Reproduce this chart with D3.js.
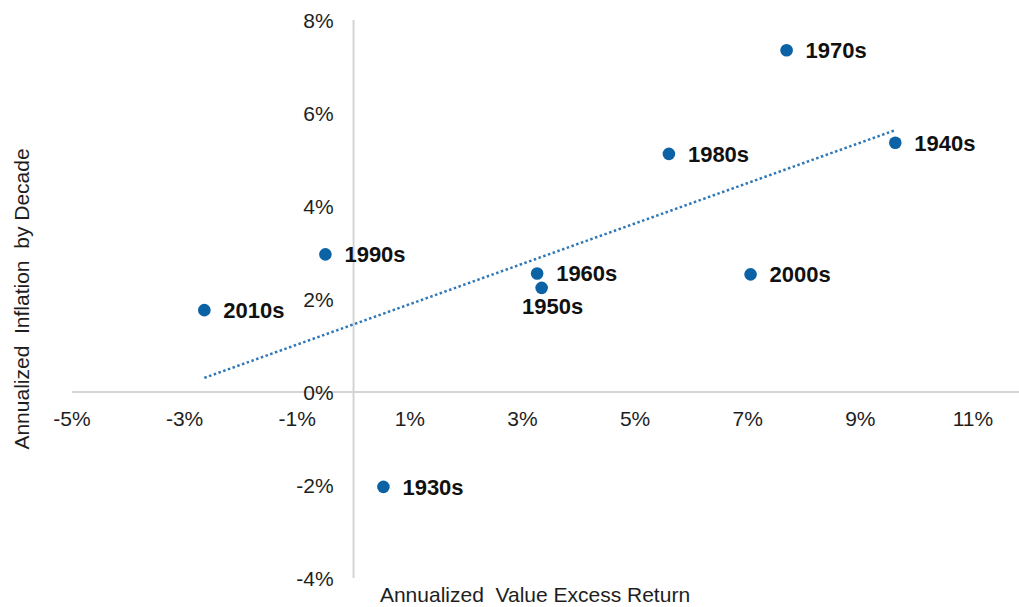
<!DOCTYPE html>
<html>
<head>
<meta charset="utf-8">
<script src="https://cdn.jsdelivr.net/npm/d3@7"></script>
<style>
  html, body { margin: 0; padding: 0; background: #fff; }
  svg { display: block; font-family: "Liberation Sans", Arial, sans-serif; }
  text { white-space: pre; }
</style>
</head>
<body>
<svg id="chart" width="1019" height="607"></svg>
<script>
// Data
const decades = ["1930s", "1940s", "1950s", "1960s", "1970s", "1980s", "1990s", "2000s", "2010s"];
const excessReturn = [0.53, 9.62, 3.34, 3.26, 7.69, 5.60, -0.50, 7.05, -2.65];
const inflation = [-2.04, 5.36, 2.24, 2.55, 7.35, 5.12, 2.96, 2.53, 1.76];
const labelBelow = ["1950s"];
const xTicks = [-5, -3, -1, 1, 3, 5, 7, 9, 11];
const yTicks = [-4, -2, 0, 2, 4, 6, 8];
const xTitle = "Annualized  Value Excess Return";
const yTitle = "Annualized  Inflation  by Decade";

const svg = d3.select("#chart");
const x = d3.scaleLinear().domain([-5, 11]).range([72, 973]);
const y = d3.scaleLinear().domain([-4, 8]).range([578, 20]);
const axisColor = "#d4d4d4";
const textColor = "#1e1e1e";
const dotColor = "#0b62a4";

// Horizontal axis line (at y=0)
svg.append("line")
  .attr("x1", x(-5)).attr("x2", 1019)
  .attr("y1", y(0)).attr("y2", y(0))
  .attr("stroke", axisColor).attr("stroke-width", 2);
// Vertical axis line (at x=0)
svg.append("line")
  .attr("x1", x(0)).attr("x2", x(0))
  .attr("y1", y(8)).attr("y2", y(-4))
  .attr("stroke", axisColor).attr("stroke-width", 2);

// X tick labels
svg.append("g").selectAll("text").data(xTicks).join("text")
  .attr("x", d => x(d)).attr("y", y(0) + 34)
  .attr("text-anchor", "middle")
  .attr("font-size", 21).attr("fill", textColor)
  .text(d => d + "%");

// Y tick labels
svg.append("g").selectAll("text").data(yTicks).join("text")
  .attr("x", x(0) - 20).attr("y", d => y(d) + 8)
  .attr("text-anchor", "end")
  .attr("font-size", 21).attr("fill", textColor)
  .text(d => d + "%");

// Trendline (least squares from data)
const n = excessReturn.length;
const mx = d3.mean(excessReturn), my = d3.mean(inflation);
let sxy = 0, sxx = 0;
for (let i = 0; i < n; i++) {
  sxy += (excessReturn[i] - mx) * (inflation[i] - my);
  sxx += (excessReturn[i] - mx) ** 2;
}
const slope = sxy / sxx, intercept = my - slope * mx;
const [xmin, xmax] = d3.extent(excessReturn);
svg.append("path")
  .datum([xmin, xmax])
  .attr("d", d3.line().x(d => x(d)).y(d => y(intercept + slope * d)))
  .attr("fill", "none")
  .attr("stroke", "#2f78b8")
  .attr("stroke-width", 2.5)
  .attr("stroke-dasharray", "2.5,2.5");

// Points
const pts = decades.map((d, i) => ({ name: d, xv: excessReturn[i], yv: inflation[i] }));
svg.append("g").selectAll("circle").data(pts).join("circle")
  .attr("cx", d => x(d.xv)).attr("cy", d => y(d.yv))
  .attr("r", 6.3).attr("fill", dotColor);

// Labels
svg.append("g").selectAll("text").data(pts).join("text")
  .attr("x", d => labelBelow.includes(d.name) ? x(d.xv) + 11 : x(d.xv) + 19)
  .attr("y", d => labelBelow.includes(d.name) ? y(d.yv) + 26 : y(d.yv) + 8)
  .attr("text-anchor", d => labelBelow.includes(d.name) ? "middle" : "start")
  .attr("font-size", 22).attr("font-weight", "bold").attr("fill", "#111")
  .text(d => d.name);

// Axis titles
svg.append("text")
  .attr("x", 535).attr("y", 602)
  .attr("text-anchor", "middle")
  .attr("font-size", 21).attr("fill", textColor)
  .text(xTitle);
svg.append("text")
  .attr("transform", "translate(29,299) rotate(-90)")
  .attr("text-anchor", "middle")
  .attr("font-size", 21).attr("fill", textColor)
  .text(yTitle);
</script>
</body>
</html>
